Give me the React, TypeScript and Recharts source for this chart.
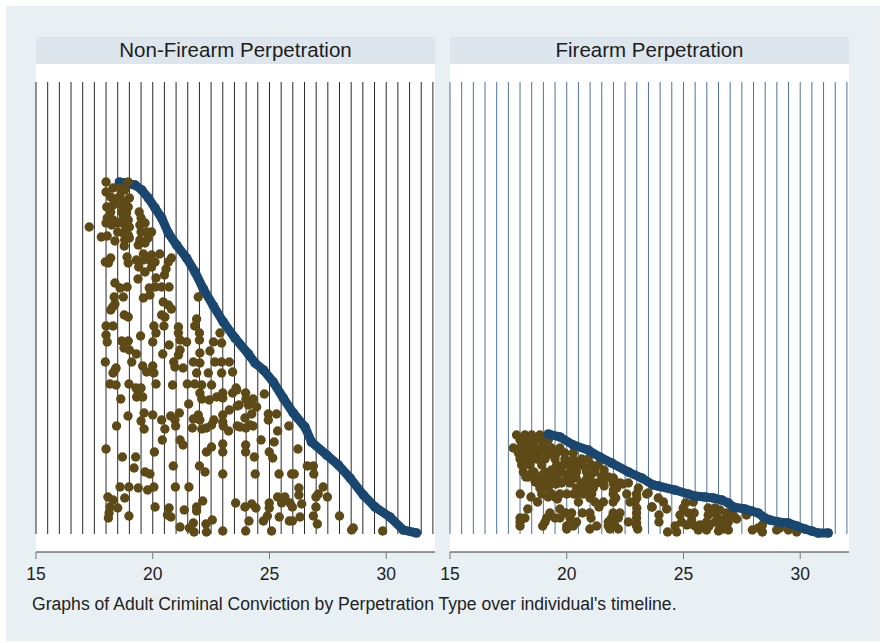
import { ScatterChart, Scatter, XAxis, YAxis, ReferenceLine } from "recharts";

const axisTicks = [15, 20, 25, 30];
const spikeYears = [15, 15.5, 16, 16.5, 17, 17.5, 18, 18.5, 19, 19.5, 20, 20.5, 21, 21.5, 22, 22.5, 23, 23.5, 24, 24.5, 25, 25.5, 26, 26.5, 27, 27.5, 28, 28.5, 29, 29.5, 30, 30.5, 31, 31.5, 32];
const spikeTop = 452;

// [age, rank]
const nonFirearmTimeline = [
  [18.57, 352], [18.81, 351], [19.24, 349], [19.53, 344], [19.81, 336], [20.1, 326], [20.38, 316], [20.67, 301],
  [21.02, 289], [21.45, 276], [21.81, 262], [22.17, 245], [22.6, 228], [23.02, 212], [23.52, 196], [24.1, 180],
  [24.38, 171], [24.74, 164], [25.16, 152], [25.59, 136], [26.02, 121], [26.52, 107], [26.8, 92], [27.45, 79],
  [27.95, 69], [28.45, 56], [29.02, 39], [29.52, 27], [30.16, 17], [30.73, 4], [31.3, 1],
];

const nonFirearmConvictions = [
  [18, 352], [18.95, 352], [18, 342], [18.3, 346], [18.6, 346], [18.8, 344], [18.2, 337], [18.6, 338], [19, 336], [18.4, 335],
  [18.8, 332], [18.03, 327], [18.3, 329], [18.67, 329], [18.95, 327], [18.2, 322], [18.67, 322], [18.88, 321], [19.42, 322],
  [18.05, 316], [18.3, 314], [18.74, 316], [18.95, 314], [19.5, 316], [19.67, 311], [17.28, 307], [18, 311], [18.24, 309],
  [18.5, 311], [18.8, 309], [19, 307], [19.45, 309], [19.95, 302], [17.8, 297], [18.05, 298], [18.5, 302], [18.74, 301],
  [18.95, 299], [19.5, 302], [19.74, 302], [18.38, 293], [18.8, 294], [19, 296], [19.38, 289], [19.67, 291], [19.8, 296],
  [18.78, 288], [19.45, 294], [17.97, 272], [18.2, 276], [18.1, 271], [18.9, 277], [18.95, 271], [19.6, 280], [19.95, 279],
  [20.3, 280], [19.3, 274], [19.6, 274], [20.1, 272], [19.4, 267], [19.67, 262], [19.95, 267], [19.88, 274], [20.8, 276],
  [20.67, 272], [20.57, 265], [20.5, 259], [19.37, 255], [20.14, 256], [18.38, 251], [18.9, 247], [18.6, 246], [19.85, 246],
  [20.1, 247], [20.38, 247], [20.7, 247], [21.95, 237], [18.35, 237], [18.74, 237], [19.6, 236], [19.88, 239], [20.45, 232],
  [20.67, 229], [20.8, 225], [18.38, 230], [18.28, 227], [18.2, 224], [18.78, 219], [18.95, 217], [20.38, 219], [20.52, 217],
  [21.88, 215], [18, 208], [18.3, 208], [20.05, 208], [20.48, 208], [21.1, 207], [21.8, 208], [20.14, 201], [18, 199],
  [19.48, 198], [21.1, 201], [22, 201], [22.88, 201], [18.05, 192], [18.67, 193], [18.95, 193], [20, 192], [21.17, 194],
  [21.45, 192], [22, 194], [22.6, 192], [22.95, 191], [18.77, 186], [19, 184], [19.3, 180], [20.7, 189], [21.17, 184],
  [22.45, 183], [20.43, 180], [21.1, 179], [22.02, 181], [17.97, 172], [19.1, 172], [20.9, 172], [21.74, 172], [22.02, 171],
  [22.66, 172], [22.95, 172], [23.28, 172], [18.43, 166], [19.57, 168], [20, 168], [20.95, 167], [21.3, 166], [18.38, 164],
  [18.3, 161], [19.74, 162], [20.05, 161], [21.88, 161], [22.38, 161], [22.95, 161], [23.42, 162], [18.17, 150], [18.43, 149],
  [18.98, 150], [19.28, 146], [19.5, 146], [20.14, 150], [20.85, 149], [21.48, 150], [21.8, 150], [22.1, 149], [22.52, 149],
  [19.38, 141], [19.31, 137], [19.57, 137], [18.63, 135], [22.02, 141], [22.1, 135], [22.42, 134], [22.74, 137], [23, 141],
  [23, 136], [23.42, 141], [23.6, 144], [21.54, 130], [23.62, 128], [23.28, 124], [18.94, 118], [19.63, 121], [20, 119],
  [21.14, 121], [20.77, 118], [21.95, 119], [21.74, 115], [23, 119], [20.38, 114], [19.5, 113], [20.95, 114], [22.02, 114],
  [22.62, 114], [23, 112], [18.45, 108], [20.98, 108], [21.7, 106], [22.1, 105], [22.3, 106], [22.52, 109], [23.02, 108],
  [19.63, 105], [20.52, 105], [23.25, 103], [23.62, 108], [20.41, 94], [21.17, 94], [21.3, 89], [23, 90], [22.52, 87],
  [22.3, 82], [23, 82], [18, 85], [20.07, 82], [18.7, 77], [19.27, 77], [19.2, 66], [20.88, 68], [22, 68], [22.24, 62],
  [19.67, 62], [19.88, 60], [23, 60], [18.6, 47], [18.98, 47], [19.38, 46], [19.78, 44], [20.05, 47], [20.97, 47], [21.55, 47],
  [18.08, 37], [18.3, 34], [18.8, 36], [22.14, 33], [23.55, 31], [18.17, 27], [18.5, 26], [20.1, 27], [20.7, 26], [21.88, 27],
  [21.35, 24], [18.13, 21], [18.1, 16], [18.98, 18], [20.63, 19], [20.78, 17], [21.88, 23], [22.55, 14], [22.28, 10], [21.74, 11],
  [21.17, 7], [21.57, 6], [21.77, 2], [22.3, 2], [23, 3], [23.57, 146], [23.98, 141], [24.78, 140], [24.3, 135], [24.45, 127],
  [24.1, 129], [23.7, 129], [24.95, 120], [25.3, 120], [24.24, 120], [23.95, 116], [24.95, 114], [25.83, 108], [24.16, 109],
  [23.74, 107], [23.99, 135], [23.99, 106], [24.3, 108], [25.35, 103], [24.64, 94], [25.2, 92], [23.98, 89], [23.98, 82],
  [24.99, 82], [26.22, 85], [24.35, 77], [25.14, 76], [26.62, 68], [26.88, 68], [24.39, 60], [25.41, 60], [25.95, 60], [26.06, 60],
  [26.9, 60], [27.3, 47], [26.26, 46], [26.26, 39], [26.99, 37], [27.09, 40], [27.48, 37], [25.35, 37], [25.66, 37], [25.52, 31],
  [24.24, 30], [23.95, 27], [24.42, 26], [24.99, 31], [24.99, 26], [25.88, 31], [25.98, 27], [26.38, 30], [26.99, 27], [26.88, 18],
  [28, 18], [25.42, 17], [24.91, 18], [26.31, 17], [24.74, 13], [24.12, 13], [25.85, 13], [25.98, 13], [27.05, 10], [23.98, 3],
  [25.09, 3], [28.59, 6], [28.52, 4], [29.85, 3],
];

const firearmTimeline = [
  [19.21, 100], [19.71, 97], [20.28, 89], [20.92, 84], [21.42, 77], [21.92, 71], [22.64, 62], [23.21, 56], [23.71, 49],
  [23.92, 48], [24.64, 44], [25.21, 40], [25.49, 38], [25.92, 37], [26.28, 36], [26.64, 34], [26.92, 31], [27.13, 27],
  [27.63, 25], [27.92, 23], [28.2, 21], [28.42, 17], [28.7, 14], [29.06, 12], [29.49, 11], [29.85, 8], [30.2, 5],
  [30.49, 3], [30.77, 1], [31.2, 1],
];

const firearmConvictions = [
  [17.85, 99], [18.21, 99], [18.5, 99], [18.85, 99], [18, 94], [18.28, 94], [18.57, 94], [18.93, 94], [19.21, 94],
  [17.71, 86], [18, 86], [18.36, 86], [18.64, 86], [19, 86], [19.35, 86], [19.71, 86],
  [17.93, 81], [18.43, 81], [18.78, 81], [19.14, 81], [19.57, 81], [19.92, 81], [20.28, 81],
  [18, 75], [18.36, 75], [18.71, 75], [19.07, 75], [19.5, 75], [19.92, 75], [20.28, 75], [20.64, 75], [20.92, 75],
  [18.07, 69], [18.43, 69], [18.93, 69], [19.57, 69], [19.85, 69], [20.21, 69], [20.64, 69], [21.07, 69], [21.35, 69],
  [18.14, 62], [18.53, 62], [19.07, 62], [19.42, 62], [19.78, 62], [20.14, 62], [20.42, 62], [20.85, 62], [21.21, 62],
  [18.36, 57], [18.71, 57], [19.21, 57], [19.57, 57], [20, 57], [20.35, 57], [21.5, 57], [21.78, 57],
  [18.78, 51], [19.07, 51], [19.42, 51], [19.78, 51], [20.14, 51], [20.64, 51], [20.92, 51], [21.28, 51], [21.99, 51], [22.28, 51], [22.64, 51],
  [18.85, 46], [19.21, 46], [20.42, 46], [20.92, 46], [21.14, 46], [22.14, 46], [23.07, 46],
  [18.01, 40], [18.93, 40], [19.35, 40], [19.71, 40], [20, 40], [20.42, 40], [20.71, 40], [21.07, 40], [21.99, 40], [22.57, 40], [22.99, 40], [23.42, 40],
  [18.47, 37], [19.5, 37], [18.75, 32], [20.5, 32], [21.21, 32], [21.57, 32], [21.99, 32], [22.71, 32], [22.92, 32],
  [21.38, 27], [18.33, 25], [19.71, 25], [19.28, 21], [19.95, 21], [20.21, 21], [20.67, 21], [20.99, 21], [22.28, 21], [21.99, 21], [22.99, 21],
  [18, 16], [18.21, 16], [19.14, 16], [19.5, 16], [19.71, 16], [20.14, 16], [21.04, 16], [21.92, 16], [22.21, 16], [22.99, 16],
  [19.07, 12], [20.42, 12], [21.78, 12], [22.64, 12], [18, 8], [18.97, 8], [20, 8], [20.28, 8], [21.28, 8], [21.78, 8], [22.07, 8], [22.99, 8],
  [20, 5], [20.99, 5], [21.85, 5], [22.21, 5], [23.04, 5], [23.64, 27],
  [23.49, 41], [23.66, 27], [23.92, 36], [24.14, 32], [24.28, 25], [23.95, 19], [23.95, 12], [24.32, 2], [24.71, 2], [24.64, 8],
  [24.92, 12], [24.85, 19], [24.99, 26], [25.09, 31], [25.42, 32], [25.21, 21], [25.46, 21], [25.35, 14], [25.14, 9], [25.64, 4],
  [25.99, 4], [25.71, 9], [25.99, 12], [26.06, 19], [26.06, 26], [26.35, 26], [26.42, 19], [26.35, 12], [26.7, 12], [26.92, 4],
  [26.56, 7], [26.92, 12], [27.13, 19], [27.28, 15], [26.85, 21], [26.56, 24], [27.7, 19], [27.95, 4], [28.2, 6], [28.38, 9],
  [28.38, 2], [28.99, 4], [29.13, 6], [29.49, 4], [29.85, 2],
  [18.2, 89], [18.6, 90], [19, 90], [18.25, 70], [18.6, 62], [19.55, 66], [20.1, 52], [20.4, 56], [20.85, 55], [21, 57], [21.1, 50],
  [19.6, 55], [18.9, 55], [19.4, 55], [19.15, 50], [21.6, 48], [22, 44], [22.1, 36], [21, 36],
  [18.2, 80], [18.55, 75], [18.6, 84], [19.3, 80], [18.25, 57], [18.65, 52], [19, 60], [19.35, 64], [20, 70], [20.4, 70], [20.8, 66],
  [19.55, 50], [20.6, 45], [20.3, 40], [19.6, 35], [19.2, 37], [21.6, 64], [21.6, 54], [22, 56], [22.4, 50], [23, 36], [23, 26],
  [18, 12], [21.95, 12], [22.99, 11], [26.2, 22], [26.5, 15], [26.8, 16], [26.1, 8], [26.5, 3], [26.7, 5], [25.3, 10], [25.5, 8], [25.85, 8],
];

const toRows = (pairs: number[][]) => pairs.map(([age, rank]) => ({ age, rank }));

const font = '"Liberation Sans", Arial, sans-serif';
const NAVY = "#1a476f";
const BROWN = "#5e4a16";

const dot = (fill: string, r: number) => (p: any) => <circle cx={p.cx} cy={p.cy} r={r} fill={fill} />;

interface PanelProps {
  title: string;
  left: number;
  spikeColor: string;
  timeline: number[][];
  convictions: number[][];
  timelineOnTop: boolean;
}

function Panel({ title, left, spikeColor, timeline, convictions, timelineOnTop }: PanelProps) {
  const blue = (
    <Scatter
      key="timeline"
      data={toRows(timeline)}
      fill={NAVY}
      shape={dot(NAVY, 4.8)}
      line={{ stroke: NAVY, strokeWidth: 9 }}
      isAnimationActive={false}
    />
  );
  const brown = (
    <Scatter key="convictions" data={toRows(convictions)} fill={BROWN} shape={dot(BROWN, 4.7)} isAnimationActive={false} />
  );

  return (
    <>
      <div
        style={{
          position: "absolute", left, top: 37, width: 399, height: 27, background: "#dce6ec",
          textAlign: "center", lineHeight: "26px", fontSize: 20.5, color: "#1c1c1c", fontFamily: font,
        }}
      >
        {title}
      </div>
      <div style={{ position: "absolute", left, top: 64, width: 399, height: 488, background: "#fff" }} />
      <div style={{ position: "absolute", left: left - 20, top: 64 }}>
        <ScatterChart width={439} height={528} margin={{ top: 0, right: 20, bottom: 0, left: 20 }}>
          <XAxis
            type="number"
            dataKey="age"
            domain={[15, 32.09]}
            ticks={axisTicks}
            interval={0}
            height={40}
            tickSize={7}
            tickMargin={9}
            axisLine={{ stroke: "#333" }}
            tickLine={{ stroke: "#777" }}
            tick={{ fill: "#222", fontSize: 17.5, fontFamily: font }}
          />
          <YAxis type="number" dataKey="rank" domain={[-18, 470]} hide />
          {spikeYears.map((y) => (
            <ReferenceLine
              key={y}
              segment={[{ x: y, y: 0 }, { x: y, y: spikeTop }]}
              stroke={spikeColor}
              strokeWidth={1}
            />
          ))}
          {timelineOnTop ? brown : blue}
          {timelineOnTop ? blue : brown}
        </ScatterChart>
      </div>
    </>
  );
}

export default function App() {
  return (
    <div style={{ position: "absolute", left: 0, top: 0, width: 883, height: 643, background: "#fff", overflow: "hidden" }}>
      <div style={{ position: "absolute", left: 6, top: 6, width: 874, height: 635, background: "#e8f0f3" }} />
      <Panel
        title="Non-Firearm Perpetration"
        left={36}
        spikeColor="#2a2a2a"
        timeline={nonFirearmTimeline}
        convictions={nonFirearmConvictions}
        timelineOnTop={false}
      />
      <Panel
        title="Firearm Perpetration"
        left={450}
        spikeColor="#4f7398"
        timeline={firearmTimeline}
        convictions={firearmConvictions}
        timelineOnTop
      />
      <div style={{ position: "absolute", left: 32, top: 594, fontSize: 17.6, color: "#222", fontFamily: font, whiteSpace: "nowrap" }}>
        Graphs of Adult Criminal Conviction by Perpetration Type over individual's timeline.
      </div>
    </div>
  );
}
